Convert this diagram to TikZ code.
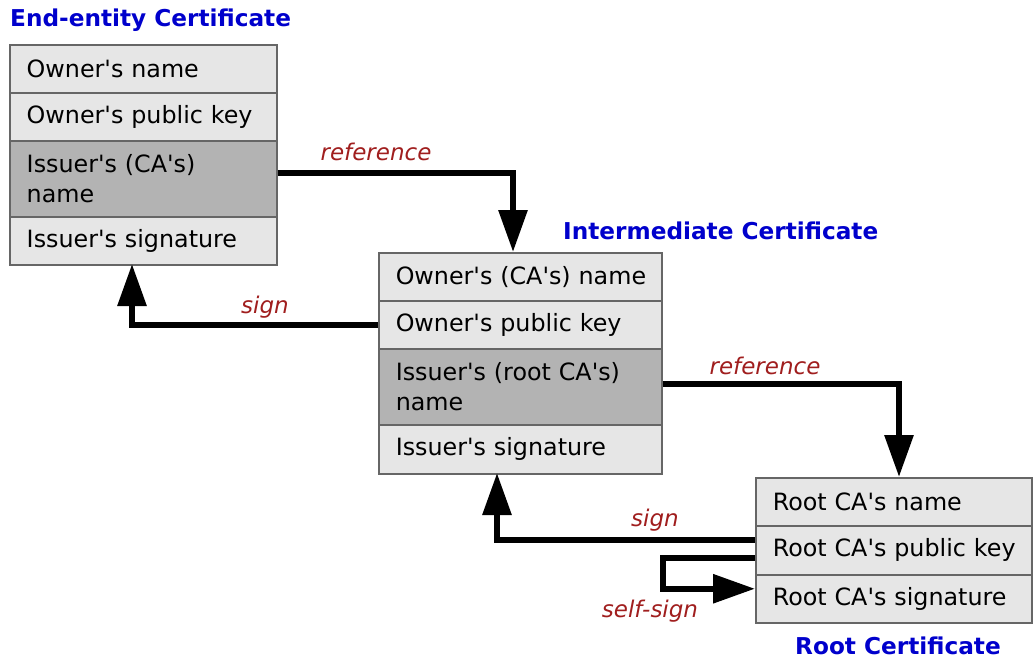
\documentclass[tikz,border=0pt]{standalone}
\usepackage{fontspec}
\setmainfont{DejaVu Sans}
\usetikzlibrary{arrows.meta}
\definecolor{rowfill}{HTML}{E6E6E6}
\definecolor{darkfill}{HTML}{B3B3B3}
\definecolor{rowline}{HTML}{666666}
\definecolor{titleblue}{HTML}{0000CC}
\definecolor{labelred}{HTML}{A01E1E}
\newcommand{\apos}{\textquotesingle}
\newcommand{\ind}{\hspace*{17pt}}
\begin{document}
\begin{tikzpicture}[x=1pt,y=-1pt,
  row/.style={draw=rowline, line width=1.5pt, fill=rowfill, anchor=north west,
    inner xsep=0pt, inner ysep=0pt, align=left, font=\fontsize{23.8}{30}\selectfont},
  dark/.style={fill=darkfill},
  certtitle/.style={anchor=west, text=titleblue, inner sep=0pt,
    font=\fontsize{23.2}{28}\selectfont\bfseries},
  lbl/.style={text=labelred, inner sep=0pt, font=\fontsize{23}{26}\selectfont\itshape},
  conn/.style={line width=6pt, -{Triangle[length=42pt,width=28pt]}}]

\useasboundingbox (0,0) rectangle (1033,659);

% End-entity certificate
\node[certtitle] (etitle) at (10,20) {End-entity Certificate};
\node[row, text width=267pt, minimum height=48pt] (e1) at (9,44) {\ind Owner\apos s name};
\node[row, text width=267pt, minimum height=48pt] (e2) at (9,92) {\ind Owner\apos s public key};
\node[row, dark, text width=267pt, minimum height=76pt] (e3) at (9,140) {\ind Issuer\apos s (CA\apos s)\\\ind name};
\node[row, text width=267pt, minimum height=48pt] (e4) at (9,216) {\ind Issuer\apos s signature};

% Intermediate certificate
\node[certtitle] (ititle) at (563,231) {Intermediate Certificate};
\node[row, text width=283pt, minimum height=48pt] (i1) at (378,252) {\ind Owner\apos s (CA\apos s) name};
\node[row, text width=283pt, minimum height=48pt] (i2) at (378,300) {\ind Owner\apos s public key};
\node[row, dark, text width=283pt, minimum height=76pt] (i3) at (378,348) {\ind Issuer\apos s (root CA\apos s)\\\ind name};
\node[row, text width=283pt, minimum height=49pt] (i4) at (378,424) {\ind Issuer\apos s signature};

% Root certificate
\node[row, text width=276pt, minimum height=48pt] (r1) at (755,477) {\ind Root CA\apos s name};
\node[row, text width=276pt, minimum height=49pt] (r2) at (755,525) {\ind Root CA\apos s public key};
\node[row, text width=276pt, minimum height=48pt] (r3) at (755,574) {\ind Root CA\apos s signature};
\node[certtitle] (rtitle) at (795,646) {Root Certificate};

% connectors
\coordinate (t1) at (513,252);
\coordinate (t2) at (899,477);
\coordinate (t3) at (132,264);
\coordinate (t4) at (497,473);
\draw[conn] ([yshift=6pt]e3.east) -| (t1);
\draw[conn] ([yshift=3pt]i3.east) -| (t2);
\draw[conn] (i2.west) -| (t3);
\draw[conn] ([yshift=10pt]r2.west) -| (t4);
\draw[conn] ([yshift=-8pt]r2.west) -- ++(-92,0) |- ([yshift=10pt]r3.west);

% labels
\node[lbl] (l1) at (376,152) {reference};
\node[lbl] (l2) at (265,307) {sign};
\node[lbl] (l3) at (765,366) {reference};
\node[lbl] (l4) at (655,520) {sign};
\node[lbl] (l5) at (650,611) {self-sign};
\end{tikzpicture}
\end{document}
